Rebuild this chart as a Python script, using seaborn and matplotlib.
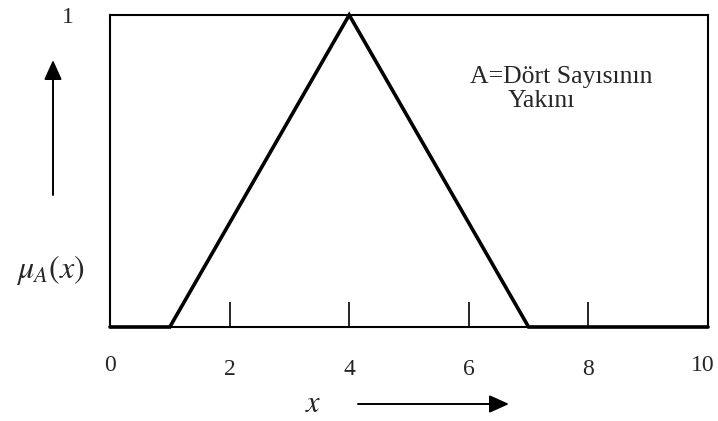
import numpy as np
import pandas as pd
import matplotlib
matplotlib.use("Agg")
import matplotlib.pyplot as plt
import matplotlib.transforms as mtransforms
import seaborn as sns

# membership function "close to four"
x_vals = [0, 1, 4, 7, 10]
mu_vals = [0, 0, 1, 0, 0]
x_ticks = [0, 2, 4, 6, 8, 10]
x_tick_labels = ["0", "2", "4", "6", "8", "10"]
y_ticks = [1]
y_tick_labels = ["1"]

df = pd.DataFrame({"x": x_vals, "mu": mu_vals})

sns.set_theme(style="white")
plt.rcParams["font.family"] = ["Liberation Serif", "DejaVu Serif"]
plt.rcParams["mathtext.fontset"] = "stix"

fig = plt.figure(figsize=(7.18, 4.21), dpi=100)
ax = fig.add_axes([110 / 718, 1 - 327 / 421, 598 / 718, 312 / 421])

sns.lineplot(data=df, x="x", y="mu", ax=ax, color="black", linewidth=2.6,
             solid_joinstyle="miter", clip_on=False, zorder=5)

ax.set_xlim(0, 10)
ax.set_ylim(0, 1)
ax.set_xlabel("")
ax.set_ylabel("")
for s in ax.spines.values():
    s.set_color("black")
    s.set_linewidth(1.5)

ax.set_xticks(x_ticks, x_tick_labels)
ax.set_yticks(y_ticks, y_tick_labels)
ax.tick_params(axis="x", direction="in", length=18, width=1.2, color="black",
               pad=20, labelsize=17, bottom=True)
ax.tick_params(axis="y", length=0, pad=26, labelsize=17)
xlabs = ax.get_xticklabels()
for lab in xlabs[1:-1]:
    lab.set_y(-0.015)
# keep "10" inside the picture
xlabs[-1].set_transform(xlabs[-1].get_transform() +
                        mtransforms.ScaledTranslation(-5 / 100, 0, fig.dpi_scale_trans))

fig.text(470 / 718, 1 - 83 / 421, "A=Dört Sayısının", fontsize=18.5,
         ha="left", va="baseline")
fig.text(508 / 718, 1 - 107 / 421, "Yakını", fontsize=18.5,
         ha="left", va="baseline")

fig.text(50 / 718, 1 - 270 / 421, r"$\mu_A(x)$", fontsize=23,
         ha="center", va="center")
fig.text(313 / 718, 1 - 404 / 421, r"$x$", fontsize=22,
         ha="center", va="center")

arrow = dict(arrowstyle="-|>,head_length=1.0,head_width=0.45", color="black",
             lw=1.4, shrinkA=0, shrinkB=0)
ax.annotate("", xy=(53 / 718, 1 - 60 / 421), xytext=(53 / 718, 1 - 195 / 421),
            xycoords="figure fraction", textcoords="figure fraction",
            arrowprops=arrow, annotation_clip=False)
ax.annotate("", xy=(509 / 718, 1 - 404 / 421), xytext=(358 / 718, 1 - 404 / 421),
            xycoords="figure fraction", textcoords="figure fraction",
            arrowprops=arrow, annotation_clip=False)

fig.savefig("out.png", dpi=100, facecolor="white")
